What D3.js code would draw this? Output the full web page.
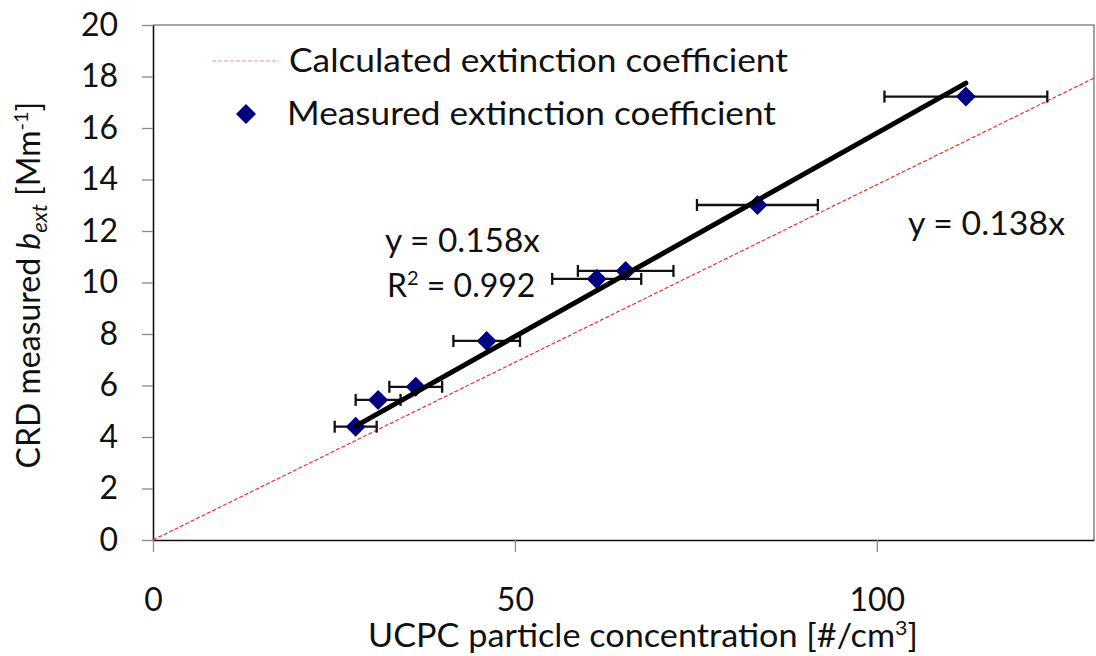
<!DOCTYPE html>
<html>
<head>
<meta charset="utf-8">
<script src="https://cdn.jsdelivr.net/npm/d3@7"></script>
<style>
  html, body { margin: 0; padding: 0; background: #fff; }
  svg { display: block; font-family: Lato, "Open Sans", sans-serif; }
</style>
</head>
<body>
<svg id="chart" width="1096" height="656"></svg>
<script>
// Measured extinction vs. particle concentration
const concentration = [28.0, 31.1, 36.3, 46.1, 61.3, 65.3, 83.5, 112.3];
const concentrationErr = [2.9, 3.1, 3.65, 4.6, 6.15, 6.6, 8.35, 11.25];
const extinction = [4.40, 5.44, 5.95, 7.73, 10.14, 10.45, 13.01, 17.22];

// Fit slope and calculated slope, plus its R²
const fitSlope = 0.158;
const fitR2 = 0.992;
const calcSlope = 0.138;

const xTicks = [0, 50, 100];
const yTicks = [0, 2, 4, 6, 8, 10, 12, 14, 16, 18, 20];
const xDomain = [0, 130];
const yDomain = [0, 20];

const svg = d3.select("#chart");
const plot = { left: 153, top: 25, right: 1094, bottom: 540 };

const x = d3.scaleLinear().domain(xDomain).range([plot.left, plot.right]);
const y = d3.scaleLinear().domain(yDomain).range([plot.bottom, plot.top]);

const FONT = 32;

// Frame: top and right edges in gray
svg.append("path")
  .attr("d", `M${plot.left},${plot.top}H${plot.right}V${plot.bottom}`)
  .attr("fill", "none").attr("stroke", "#8a8a8a").attr("stroke-width", 1.6);

// Axes
const yAxis = svg.append("g")
  .attr("transform", `translate(${plot.left},0)`)
  .call(d3.axisLeft(y).tickValues(yTicks).tickFormat(d3.format("d"))
    .tickSize(11).tickSizeOuter(0).tickPadding(24));
const xAxis = svg.append("g")
  .attr("transform", `translate(0,${plot.bottom})`)
  .call(d3.axisBottom(x).tickValues(xTicks).tickFormat(d3.format("d"))
    .tickSize(12).tickSizeOuter(0).tickPadding(36));

[yAxis, xAxis].forEach(g => {
  g.select(".domain").attr("stroke", "#111").attr("stroke-width", 1.6);
  g.selectAll(".tick line").attr("stroke", "#8a8a8a").attr("stroke-width", 1.3);
  g.selectAll(".tick text").attr("fill", "#111")
    .style("font-size", FONT + "px").style("font-family", "Lato, 'Open Sans', sans-serif");
});

// Calculated extinction line y = calcSlope * x
svg.append("path")
  .datum(xDomain)
  .attr("d", d3.line().x(d => x(d)).y(d => y(calcSlope * d)))
  .attr("fill", "none").attr("stroke", "#ff1a1a").attr("stroke-width", 1.1)
  .attr("stroke-dasharray", "4,2");

// Horizontal error bars
const eb = svg.append("g").attr("stroke", "#111").attr("stroke-width", 2.3).attr("fill", "none");
concentration.forEach((c, i) => {
  const x0 = x(c - concentrationErr[i]), x1 = x(c + concentrationErr[i]), yy = y(extinction[i]);
  eb.append("line").attr("x1", x0).attr("x2", x1).attr("y1", yy).attr("y2", yy);
  eb.append("line").attr("x1", x0).attr("x2", x0).attr("y1", yy - 6).attr("y2", yy + 6);
  eb.append("line").attr("x1", x1).attr("x2", x1).attr("y1", yy - 6).attr("y2", yy + 6);
});

// Diamond markers
const diamond = d3.symbol().type(d3.symbolSquare).size(200);
svg.append("g").selectAll("path")
  .data(concentration.map((c, i) => [c, extinction[i]]))
  .join("path")
  .attr("d", diamond)
  .attr("transform", d => `translate(${x(d[0])},${y(d[1])}) rotate(45)`)
  .attr("fill", "#000080");

// Linear fit through origin, spanning the measured range
const fitRange = d3.extent(concentration);
svg.append("path")
  .datum(fitRange)
  .attr("d", d3.line().x(d => x(d)).y(d => y(fitSlope * d)))
  .attr("fill", "none").attr("stroke", "#000").attr("stroke-width", 5)
  .attr("stroke-linecap", "round");

// Text helpers
function label(xp, yp, str, len) {
  const t = svg.append("text").attr("x", xp).attr("y", yp)
    .attr("fill", "#111").style("font-size", FONT + "px").text(str);
  if (len) t.attr("textLength", len).attr("lengthAdjust", "spacingAndGlyphs");
  return t;
}

// Equations
label(385, 252, `y = ${fitSlope.toFixed(3)}x`, 155);
const r2 = svg.append("text").attr("x", 387).attr("y", 297).attr("fill", "#111")
  .style("font-size", FONT + "px");
r2.append("tspan").text("R");
r2.append("tspan").attr("dy", -12).style("font-size", "20px").text("2");
r2.append("tspan").attr("dy", 12).text(` = ${fitR2.toFixed(3)}`);
label(908, 235, `y = ${calcSlope.toFixed(3)}x`, 157);

// Legend
svg.append("line").attr("x1", 212).attr("x2", 279).attr("y1", 61).attr("y2", 61)
  .attr("stroke", "#ff8a8a").attr("stroke-width", 1.2).attr("stroke-dasharray", "4,2");
label(289, 72, "Calculated extinction coefficient", 499);
svg.append("path").attr("d", diamond)
  .attr("transform", "translate(246,114) rotate(45)").attr("fill", "#000080");
label(287, 125, "Measured extinction coefficient", 489);

// Axis titles
const xt = svg.append("text").attr("x", 368).attr("y", 647).attr("fill", "#111")
  .style("font-size", FONT + "px")
  .attr("textLength", 550).attr("lengthAdjust", "spacingAndGlyphs");
xt.append("tspan").text("UCPC particle concentration [#/cm");
xt.append("tspan").attr("dy", -12).style("font-size", "20px").text("3");
xt.append("tspan").attr("dy", 12).text("]");

const yt = svg.append("text")
  .attr("transform", "translate(40,285) rotate(-90)")
  .attr("text-anchor", "middle").attr("fill", "#111").style("font-size", FONT + "px");
yt.append("tspan").text("CRD measured ");
yt.append("tspan").style("font-style", "italic").text("b");
yt.append("tspan").style("font-style", "italic").style("font-size", "22px").attr("dy", 7).text("ext");
yt.append("tspan").attr("dy", -7).text(" [Mm");
yt.append("tspan").style("font-size", "20px").attr("dy", -12).text("-1");
yt.append("tspan").attr("dy", 12).text("]");
</script>
</body>
</html>
